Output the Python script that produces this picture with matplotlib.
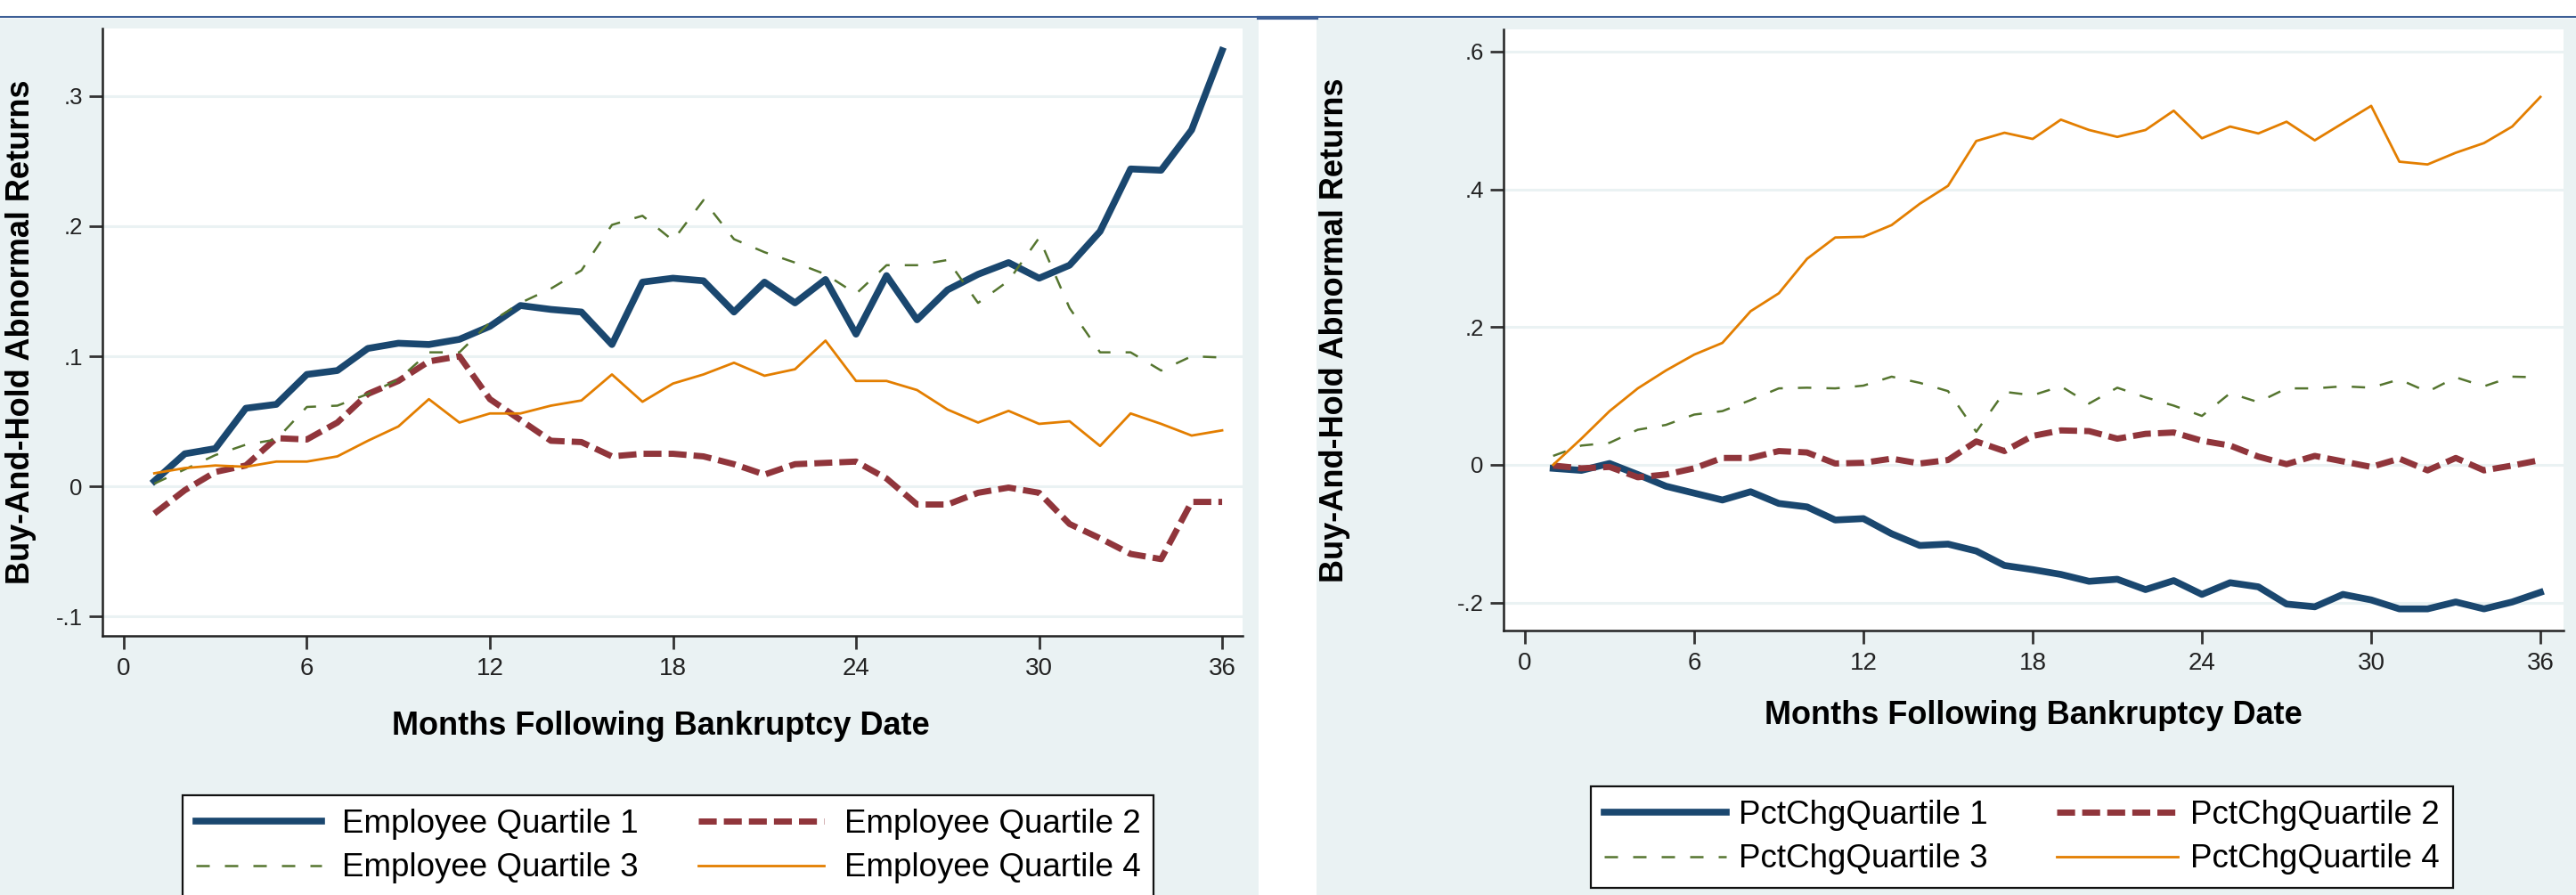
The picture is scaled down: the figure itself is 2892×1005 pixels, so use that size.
import matplotlib.pyplot as plt
from matplotlib.lines import Line2D
from matplotlib.patches import Rectangle
import numpy as np

plt.rcParams['font.family'] = ['Liberation Sans', 'DejaVu Sans']

# ======================================================
# Data: buy-and-hold abnormal returns, months 1..36
# ======================================================

months = np.arange(1, 37)

# by employee quartile
emp_q1 = [0.004, 0.025, 0.029, 0.060, 0.063, 0.086, 0.089, 0.106, 0.110, 0.109,
          0.113, 0.123, 0.139, 0.136, 0.134, 0.109, 0.157, 0.160, 0.158, 0.134,
          0.157, 0.141, 0.159, 0.117, 0.162, 0.128, 0.151, 0.163, 0.172, 0.160,
          0.170, 0.196, 0.244, 0.243, 0.274, 0.335]
emp_q2 = [-0.021, -0.003, 0.011, 0.016, 0.037, 0.036, 0.049, 0.071, 0.081, 0.096,
          0.100, 0.067, 0.051, 0.035, 0.034, 0.023, 0.025, 0.025, 0.023, 0.017,
          0.009, 0.017, 0.018, 0.019, 0.006, -0.014, -0.014, -0.005, -0.001, -0.005,
          -0.029, -0.040, -0.052, -0.056, -0.012, -0.012]
emp_q3 = [0.002, 0.013, 0.024, 0.032, 0.036, 0.061, 0.062, 0.071, 0.082, 0.103,
          0.103, 0.126, 0.141, 0.152, 0.166, 0.201, 0.208, 0.189, 0.220, 0.190,
          0.180, 0.172, 0.163, 0.148, 0.170, 0.170, 0.174, 0.141, 0.158, 0.191,
          0.137, 0.103, 0.103, 0.089, 0.100, 0.099]
emp_q4 = [0.010, 0.014, 0.016, 0.015, 0.019, 0.019, 0.023, 0.035, 0.046, 0.067,
          0.049, 0.056, 0.056, 0.062, 0.066, 0.086, 0.065, 0.079, 0.086, 0.095,
          0.085, 0.090, 0.112, 0.081, 0.081, 0.074, 0.059, 0.049, 0.058, 0.048,
          0.050, 0.031, 0.056, 0.048, 0.039, 0.043]

# by percent-change quartile
pct_q1 = [-0.005, -0.008, 0.002, -0.014, -0.031, -0.041, -0.051, -0.039, -0.056, -0.061,
          -0.080, -0.078, -0.100, -0.117, -0.115, -0.125, -0.146, -0.152, -0.159, -0.169,
          -0.166, -0.181, -0.168, -0.188, -0.171, -0.177, -0.202, -0.206, -0.188, -0.196,
          -0.209, -0.209, -0.199, -0.209, -0.199, -0.185]
pct_q2 = [-0.001, -0.005, -0.003, -0.018, -0.014, -0.005, 0.010, 0.010, 0.020, 0.018,
          0.002, 0.003, 0.009, 0.002, 0.007, 0.034, 0.020, 0.042, 0.050, 0.049,
          0.038, 0.045, 0.047, 0.035, 0.028, 0.012, 0.001, 0.013, 0.005, -0.003,
          0.009, -0.008, 0.010, -0.008, -0.001, 0.007]
pct_q3 = [0.013, 0.028, 0.032, 0.051, 0.058, 0.073, 0.078, 0.094, 0.111, 0.112,
          0.111, 0.115, 0.128, 0.119, 0.107, 0.048, 0.106, 0.101, 0.114, 0.089,
          0.112, 0.098, 0.086, 0.071, 0.104, 0.091, 0.111, 0.111, 0.114, 0.112,
          0.124, 0.106, 0.127, 0.114, 0.128, 0.127]
pct_q4 = [0.000, 0.038, 0.078, 0.111, 0.137, 0.160, 0.177, 0.223, 0.249, 0.299,
          0.330, 0.331, 0.348, 0.379, 0.405, 0.470, 0.482, 0.473, 0.501, 0.486,
          0.476, 0.486, 0.514, 0.474, 0.491, 0.481, 0.498, 0.471, 0.496, 0.521,
          0.440, 0.436, 0.453, 0.467, 0.491, 0.534]

emp_labels = ['Employee Quartile 1', 'Employee Quartile 2',
              'Employee Quartile 3', 'Employee Quartile 4']
pct_labels = ['PctChgQuartile 1', 'PctChgQuartile 2',
              'PctChgQuartile 3', 'PctChgQuartile 4']

x_ticks = [0, 6, 12, 18, 24, 30, 36]
emp_yticks = [-0.1, 0, 0.1, 0.2, 0.3]
emp_yticklabels = ['-.1', '0', '.1', '.2', '.3']
pct_yticks = [-0.2, 0, 0.2, 0.4, 0.6]
pct_yticklabels = ['-.2', '0', '.2', '.4', '.6']

# ======================================================
# Styles (stata s2color look)
# ======================================================

BG = '#eaf2f3'
styles = [
    dict(color='#1a476f', lw=5.5, ls='-'),
    dict(color='#90353b', lw=5.0, dashes=(2.9, 1.15)),
    dict(color='#55752f', lw=1.8, dashes=(6.0, 6.8)),
    dict(color='#e37e00', lw=2.0, ls='-'),
]

W, H = 2892, 1005
fig = plt.figure(figsize=(W / 100, H / 100), dpi=100, facecolor='white')


def box(x0, y0, x1, y1):
    # pixel box (top-left origin) -> figure fraction rect
    return [x0 / W, 1 - y1 / H, (x1 - x0) / W, (y1 - y0) / H]


# grey graph regions
for x0, x1 in [(0, 1413), (1478, W)]:
    r = box(x0, 21, x1, H)
    fig.patches.append(Rectangle((r[0], r[1]), r[2], r[3], transform=fig.transFigure,
                                 facecolor=BG, edgecolor='none', zorder=-5))

# thin rule along the top
fig.add_artist(Line2D([0, 1], [1 - 19.5 / H] * 2, transform=fig.transFigure,
                      color='#3d5f96', lw=1.5, zorder=-4))
fig.add_artist(Line2D([1413 / W, 1478 / W], [1 - 20 / H] * 2, transform=fig.transFigure,
                      color='#3d5f96', lw=3, zorder=-4))


def panel(ax, series, labels, yticks, yticklabels, xlim, ylim):
    lines = []
    for y, st, lab in zip(series, styles, labels):
        lines += ax.plot(months, y, label=lab, solid_joinstyle='round', **st)

    ax.set_xlim(*xlim)
    ax.set_ylim(*ylim)
    ax.set_xticks(x_ticks)
    ax.set_yticks(yticks)
    ax.set_yticklabels(yticklabels)

    ax.set_facecolor('white')
    ax.grid(axis='y', color=BG, lw=2.2)
    ax.set_axisbelow(True)
    for s in ['top', 'right']:
        ax.spines[s].set_visible(False)
    for s in ['left', 'bottom']:
        ax.spines[s].set_linewidth(1.8)
        ax.spines[s].set_color('#222222')

    ax.tick_params(axis='x', length=10.5, width=2, color='#333333',
                   labelsize=20, pad=7, labelcolor='#222222')
    ax.tick_params(axis='y', length=10.5, width=2, color='#333333',
                   labelsize=18.5, pad=5.5, labelcolor='#222222')

    ax.set_xlabel('Months Following Bankruptcy Date', fontsize=26, fontweight='bold')
    ax.set_ylabel('Buy-And-Hold Abnormal Returns', fontsize=26, fontweight='bold')
    # legend fills row by row: 1 2 / 3 4
    order = [0, 2, 1, 3]
    return [lines[i] for i in order], [labels[i] for i in order]


ax1 = fig.add_axes(box(115, 32, 1395, 714))
h1, l1 = panel(ax1, [emp_q1, emp_q2, emp_q3, emp_q4], emp_labels,
               emp_yticks, emp_yticklabels, (-0.70, 36.67), (-0.115, 0.352))
ax1.xaxis.set_label_coords(0.49, -(798 - 714) / 682)
ax1.yaxis.set_label_coords((41 - 115) / 1280, 0.5)

ax2 = fig.add_axes(box(1688, 33, 2878, 708))
h2, l2 = panel(ax2, [pct_q1, pct_q2, pct_q3, pct_q4], pct_labels,
               pct_yticks, pct_yticklabels, (-0.758, 36.82), (-0.2404, 0.632))
ax2.xaxis.set_label_coords(0.5, -(786 - 708) / 675)
ax2.yaxis.set_label_coords((1516 - 1688) / 1190, 0.5)

legend_opts = dict(loc='upper left', ncol=2, fontsize=26.5, frameon=True, fancybox=False,
                   framealpha=1, edgecolor='#111111', borderpad=0.4, labelspacing=0.4,
                   borderaxespad=0)
leg1 = ax1.legend(h1, l1, bbox_to_anchor=(205 / W, 1 - 893 / H), bbox_transform=fig.transFigure,
                  handlelength=3.83, handletextpad=0.62, columnspacing=1.85, **legend_opts)
leg2 = ax2.legend(h2, l2, bbox_to_anchor=(1786 / W, 1 - 883 / H), bbox_transform=fig.transFigure,
                  handlelength=3.72, handletextpad=0.38, columnspacing=2.1, **legend_opts)
for leg in (leg1, leg2):
    leg.get_frame().set_linewidth(1.6)

fig.savefig('out.png', dpi=100, facecolor='white')
